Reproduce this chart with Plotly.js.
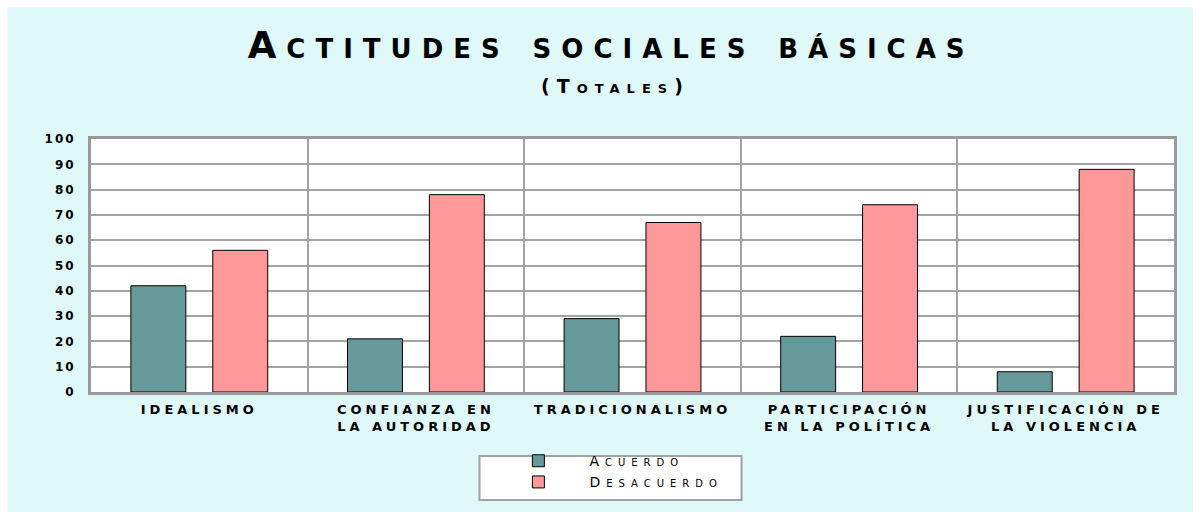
<!DOCTYPE html>
<html>
<head>
<meta charset="utf-8">
<script src="https://cdn.plot.ly/plotly-3.0.1.min.js"></script>
<style>
  html, body { margin: 0; padding: 0; background: #ffffff; }
  #chart { width: 1203px; height: 512px; }
  .gtitle { letter-spacing: 10px; }
  .annotation-text { letter-spacing: 7px; }
  .xtick text { letter-spacing: 4px; }
  .ytick text { letter-spacing: 2px; }
  .legendtext { letter-spacing: 6px; }
</style>
</head>
<body>
<div id="chart"></div>
<script>
const categories = [
  "IDEALISMO",
  "CONFIANZA EN<br>LA AUTORIDAD",
  "TRADICIONALISMO",
  "PARTICIPACIÓN<br>EN LA POLÍTICA",
  "JUSTIFICACIÓN DE<br>LA VIOLENCIA"
];
const acuerdo = [42, 21, 29, 22, 8];
const desacuerdo = [56, 78, 67, 74, 88];
const seriesNames = ["Acuerdo", "Desacuerdo"];
const yTicks = [0, 10, 20, 30, 40, 50, 60, 70, 80, 90, 100];
const titleText = "Actitudes sociales básicas";
const subtitleText = "(Totales)";

const FONT = "DejaVu Sans";
const grid = "#a3a3a3";

const traces = [
  {
    type: "bar", name: seriesNames[0], x: categories, y: acuerdo,
    marker: { color: "#669999", line: { color: "#000000", width: 1 } }
  },
  {
    type: "bar", name: seriesNames[1], x: categories, y: desacuerdo,
    marker: { color: "#ff9999", line: { color: "#000000", width: 1 } }
  }
];

const layout = {
  width: 1203, height: 512,
  margin: { l: 91, r: 29, t: 139, b: 120 },
  paper_bgcolor: "#ffffff",
  plot_bgcolor: "rgba(0,0,0,0)",
  barmode: "group",
  bargap: 0.244,
  bargroupgap: 0.329,
  font: { family: FONT, color: "#000000" },
  title: {
    text: titleText,
    x: 0.508, xanchor: "center",
    y: 0.912, yanchor: "middle", yref: "container",
    font: { family: FONT, size: 37, weight: "bold", variant: "small-caps", color: "#000000" }
  },
  annotations: [{
    text: subtitleText, xref: "paper", yref: "paper",
    x: 0.484, y: 1.21, xanchor: "center", yanchor: "middle", showarrow: false,
    font: { family: FONT, size: 19, variant: "small-caps", weight: "bold", color: "#000000" }
  }],
  xaxis: {
    type: "category",
    tickson: "boundaries",
    tickangle: 0,
    automargin: false,
    showgrid: true, gridcolor: grid, gridwidth: 2,
    showline: true, linecolor: "#9a9a9a", linewidth: 3, mirror: true,
    ticks: "", ticklabelstandoff: 3,
    tickfont: { family: FONT, size: 13, weight: "bold", color: "#000000" },
    fixedrange: true
  },
  yaxis: {
    range: [0, 100],
    tickvals: yTicks,
    automargin: false,
    showgrid: true, gridcolor: grid, gridwidth: 2,
    zeroline: false,
    showline: true, linecolor: "#9a9a9a", linewidth: 3, mirror: true,
    ticks: "", ticklabelstandoff: 10,
    tickfont: { family: FONT, size: 12, weight: "bold", color: "#000000" },
    fixedrange: true
  },
  legend: {
    x: 0.366, xanchor: "left",
    y: -0.21, yanchor: "top",
    orientation: "v",
    bgcolor: "rgba(0,0,0,0)", borderwidth: 0,
    itemwidth: 92,
    tracegroupgap: 0,
    font: { family: FONT, size: 14, variant: "small-caps", color: "#000000" }
  },
  showlegend: true,
  shapes: [
    { type: "rect", xref: "paper", yref: "paper", layer: "below",
      x0: -0.0773, x1: 1.0175, y0: -0.48, y1: 1.52,
      fillcolor: "#dff8f8", line: { width: 0 } },
    { type: "rect", xref: "paper", yref: "paper", layer: "below",
      x0: 0, x1: 1, y0: 0, y1: 1,
      fillcolor: "#ffffff", line: { width: 0 } },
    { type: "rect", xref: "paper", yref: "paper", layer: "below",
      x0: 0.3587, x1: 0.6007, y0: -0.427, y1: -0.253,
      fillcolor: "#ffffff", line: { color: "#a0a0a0", width: 2 } }
  ]
};

Plotly.newPlot("chart", traces, layout, { displayModeBar: false, staticPlot: true });
</script>
</body>
</html>
